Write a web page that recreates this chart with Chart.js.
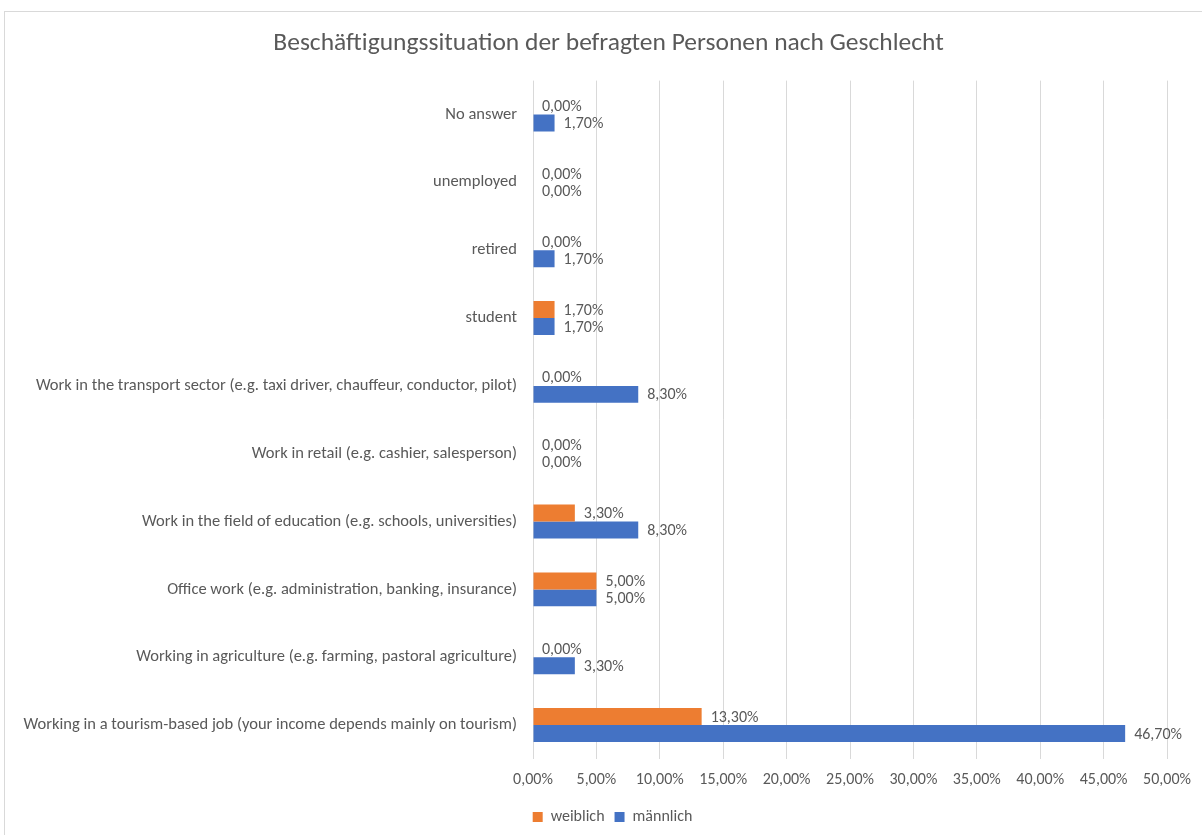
<!DOCTYPE html>
<html>
<head>
<meta charset="utf-8">
<script src="https://cdn.jsdelivr.net/npm/chart.js@4"></script>
<style>
  body { margin: 0; background: #fff; }
  #wrap { position: relative; width: 1202px; height: 835px; overflow: hidden; }
  #frame { position: absolute; left: 4px; top: 11px; width: 1210px; height: 840px; border: 1px solid #d9d9d9; }
  canvas { position: absolute; left: 0; top: 0; }
</style>
</head>
<body>
<div id="wrap">
  <div id="frame"></div>
  <canvas id="employmentChart" width="1202" height="835"></canvas>
</div>
<script>
// Kategorien (von oben nach unten)
const categories = [
  'No answer',
  'unemployed',
  'retired',
  'student',
  'Work in the transport sector (e.g. taxi driver, chauffeur, conductor, pilot)',
  'Work in retail (e.g. cashier, salesperson)',
  'Work in the field of education (e.g. schools, universities)',
  'Office work (e.g. administration, banking, insurance)',
  'Working in agriculture (e.g. farming, pastoral agriculture)',
  'Working in a tourism-based job (your income depends mainly on tourism)'
];
const weiblich = [0, 0, 0, 1.7, 0, 0, 3.3, 5, 0, 13.3];
const maennlich = [1.7, 0, 1.7, 1.7, 8.3, 0, 8.3, 5, 3.3, 46.7];
const xTicks = [0, 5, 10, 15, 20, 25, 30, 35, 40, 45, 50];

const textColor = '#595959';
const fontFamily = "Carlito, Calibri, 'Open Sans', sans-serif";

function pct(v) {
  return v.toFixed(2).replace('.', ',') + '%';
}

// Werte rechts neben den Balken
const barLabels = {
  id: 'barLabels',
  afterDatasetsDraw(chart) {
    const ctx = chart.ctx;
    ctx.save();
    ctx.font = '16px ' + fontFamily;
    ctx.fillStyle = textColor;
    ctx.textAlign = 'left';
    ctx.textBaseline = 'middle';
    chart.data.datasets.forEach((ds, i) => {
      chart.getDatasetMeta(i).data.forEach((bar, j) => {
        ctx.fillText(pct(ds.data[j]), bar.x + 9, bar.y + 1);
      });
    });
    ctx.restore();
  }
};

// Titel und Legende etwas nach rechts (wie im Original)
const shiftBoxes = {
  id: 'shiftBoxes',
  afterLayout(chart) {
    chart.titleBlock.left += 25;
    chart.titleBlock.right += 25;
    chart.legend.left += 29;
    chart.legend.right += 29;
  }
};

const ctx = document.getElementById('employmentChart').getContext('2d');
const chart = new Chart(ctx, {
  type: 'bar',
  data: {
    labels: categories,
    datasets: [
      { label: 'weiblich', data: weiblich, backgroundColor: '#ED7D31' },
      { label: 'männlich', data: maennlich, backgroundColor: '#4472C4' }
    ]
  },
  options: {
    indexAxis: 'y',
    responsive: false,
    animation: false,
    layout: { padding: { left: 0, right: 35, top: 20, bottom: 0 } },
    datasets: { bar: { categoryPercentage: 0.5, barPercentage: 1.0 } },
    scales: {
      x: {
        min: 0,
        max: 50,
        afterBuildTicks: s => { s.ticks = xTicks.map(v => ({ value: v })); },
        grid: { color: '#d9d9d9', drawTicks: false },
        border: { display: false },
        ticks: {
          padding: 11,
          color: textColor,
          font: { size: 16, family: fontFamily },
          callback: v => pct(v)
        },
        afterFit: s => { s.height = 40; }
      },
      y: {
        grid: { display: false, drawTicks: false },
        border: { display: false },
        ticks: {
          padding: 16,
          color: textColor,
          font: { size: 16.5, family: fontFamily },
          autoSkip: false
        },
        afterFit: s => { s.width = 533; }
      }
    },
    plugins: {
      title: {
        display: true,
        text: 'Beschäftigungssituation der befragten Personen nach Geschlecht',
        color: textColor,
        font: { size: 25.5, weight: 'normal', family: fontFamily },
        padding: { top: 8, bottom: 22 }
      },
      legend: {
        position: 'bottom',
        labels: {
          boxWidth: 10,
          boxHeight: 10,
          padding: 10,
          color: textColor,
          font: { size: 16, family: fontFamily }
        }
      },
      tooltip: { enabled: false }
    }
  },
  plugins: [barLabels, shiftBoxes]
});
</script>
</body>
</html>
